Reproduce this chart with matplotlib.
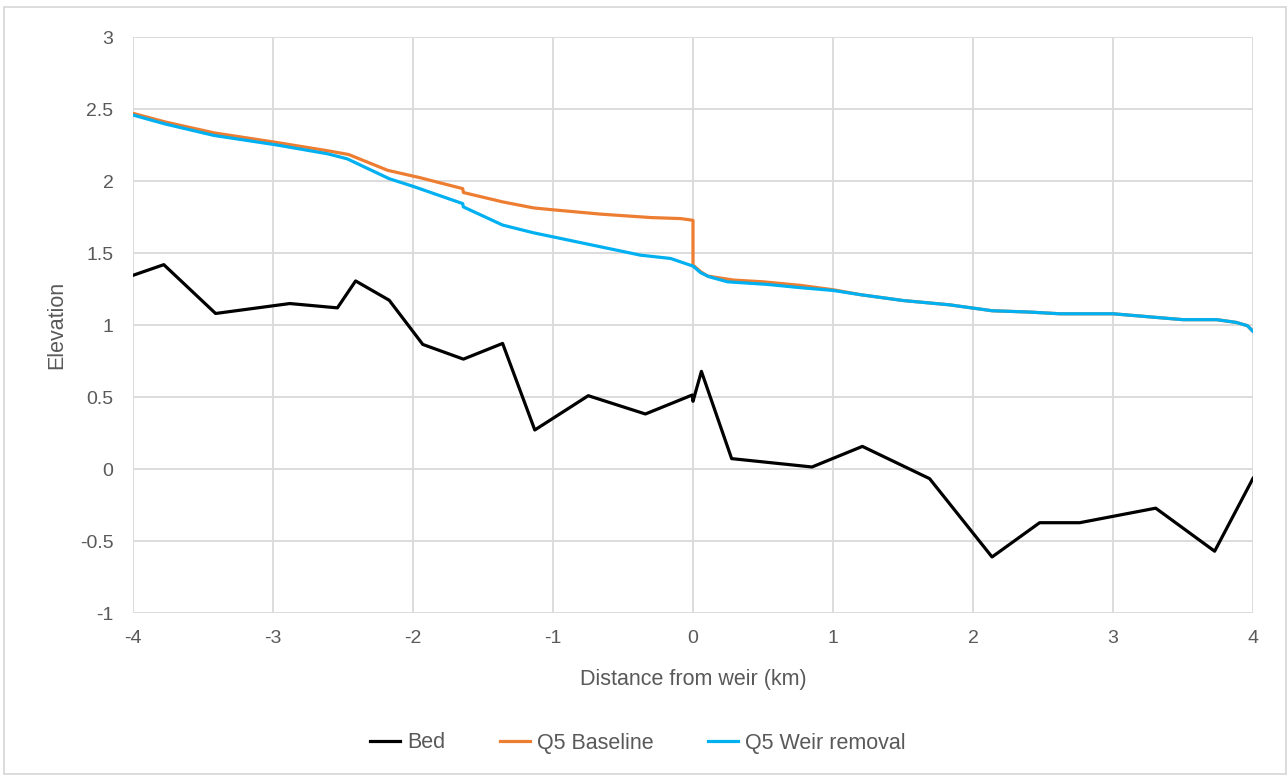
import matplotlib.pyplot as plt
from matplotlib.patches import Rectangle

# distance from weir (km) and elevation
bed_x = [-4.0, -3.78, -3.41, -2.88, -2.54, -2.41, -2.17, -1.93, -1.64, -1.36,
         -1.13, -0.748, -0.34, -0.005, 0.0, 0.06, 0.276, 0.85, 1.21, 1.69,
         2.136, 2.476, 2.762, 3.305, 3.726, 4.0]
bed_y = [1.345, 1.419, 1.08, 1.149, 1.119, 1.306, 1.172, 0.865, 0.763, 0.872,
         0.271, 0.509, 0.382, 0.514, 0.47, 0.678, 0.072, 0.014, 0.157, -0.067,
         -0.611, -0.373, -0.373, -0.272, -0.571, -0.065]

base_x = [-4.0, -3.77, -3.42, -2.99, -2.61, -2.46, -2.18, -1.95, -1.645, -1.64,
          -1.36, -1.138, -1.0, -0.66, -0.30, -0.088, 0.0, 0.0, 0.055, 0.103,
          0.29, 0.5, 0.77, 1.0, 1.2, 1.5, 1.833, 2.136, 2.4, 2.62, 3.0, 3.5,
          3.74, 3.88, 3.96, 4.0]
base_y = [2.47, 2.41, 2.334, 2.27, 2.21, 2.184, 2.074, 2.023, 1.947, 1.92,
          1.855, 1.813, 1.80, 1.77, 1.746, 1.739, 1.727, 1.416, 1.37, 1.34,
          1.312, 1.30, 1.275, 1.245, 1.21, 1.17, 1.14, 1.099, 1.09, 1.078,
          1.078, 1.037, 1.037, 1.018, 0.995, 0.956]

weir_x = [-4.0, -3.77, -3.42, -2.99, -2.61, -2.47, -2.17, -2.0, -1.645, -1.64,
          -1.36, -1.138, -1.0, -0.66, -0.375, -0.16, 0.0, 0.055, 0.115, 0.246,
          0.53, 0.77, 1.0, 1.2, 1.5, 1.833, 2.136, 2.4, 2.62, 3.0, 3.5, 3.74,
          3.88, 3.96, 4.0]
weir_y = [2.458, 2.396, 2.316, 2.253, 2.189, 2.154, 2.016, 1.963, 1.843, 1.82,
          1.694, 1.64, 1.612, 1.543, 1.485, 1.462, 1.409, 1.363, 1.335, 1.30,
          1.282, 1.259, 1.24, 1.21, 1.17, 1.14, 1.099, 1.09, 1.078, 1.078,
          1.037, 1.037, 1.018, 0.995, 0.956]

GREY = '#595959'
plt.rcParams['font.family'] = ['Liberation Sans', 'DejaVu Sans']
plt.rcParams['axes.unicode_minus'] = False

fig = plt.figure(figsize=(12.88, 7.75), dpi=100)
ax = fig.add_axes([133 / 1288, 1 - 613 / 775, 1120 / 1288, 576 / 775])

ax.plot(bed_x, bed_y, color='black', lw=2.3, label='Bed')
ax.plot(base_x, base_y, color='#ED7D31', lw=2.3, label='Q5 Baseline')
ax.plot(weir_x, weir_y, color='#00B0F0', lw=2.3, label='Q5 Weir removal')

ax.set_xlim(-4, 4)
ax.set_ylim(-1, 3)
ax.set_xticks(range(-4, 5))
ax.set_yticks([-1, -0.5, 0, 0.5, 1, 1.5, 2, 2.5, 3])
ax.set_yticklabels(['-1', '-0.5', '0', '0.5', '1', '1.5', '2', '2.5', '3'])
ax.grid(True, color='#d9d9d9', lw=1.3)
ax.set_axisbelow(True)
for s in ax.spines.values():
    s.set_visible(False)
ax.tick_params(length=0, labelsize=14, colors=GREY)
ax.tick_params(axis='x', pad=12)
ax.tick_params(axis='y', pad=14)
ax.set_xlabel('Distance from weir (km)', fontsize=15.5, color=GREY, labelpad=16)
ax.set_ylabel('Elevation', fontsize=15.5, color=GREY, labelpad=9)

fig.legend(*ax.get_legend_handles_labels(), loc='center',
           bbox_to_anchor=(638 / 1288, 1 - 743 / 775), ncol=3, frameon=False,
           fontsize=15.5, labelcolor=GREY, handlelength=1.4,
           handletextpad=0.35, columnspacing=2.5)

# chart area border
fig.patches.append(Rectangle((4 / 1288, 1 / 775), 1282 / 1288, 767 / 775,
                             transform=fig.transFigure, fill=False,
                             edgecolor='#d9d9d9', lw=1.3))

fig.savefig('out.png', dpi=100)
